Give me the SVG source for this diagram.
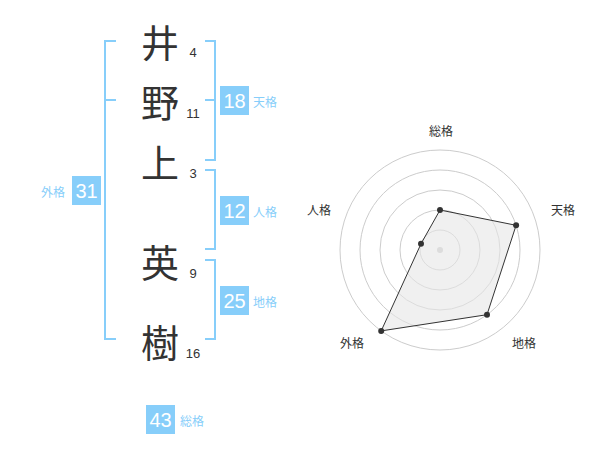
<svg xmlns="http://www.w3.org/2000/svg" width="600" height="470" viewBox="0 0 600 470">
<style>
.br{fill:none;stroke:#87cefa;stroke-width:2}
.box{fill:#87cefa}
.bn{font-family:"Liberation Sans",Arial,sans-serif;font-size:20px;fill:#fff;text-anchor:middle}
.lb{font-family:"Noto Sans CJK JP","Noto Sans CJK SC",sans-serif;font-size:12px;fill:#87cefa}
.kj{font-family:"Noto Sans CJK JP","Noto Sans CJK SC",sans-serif;font-size:38px;fill:#333;text-anchor:middle;dominant-baseline:central}
.sn{font-family:"Liberation Sans",Arial,sans-serif;font-size:13px;fill:#333;text-anchor:middle}
.rl{font-family:"Noto Sans CJK JP","Noto Sans CJK SC",sans-serif;font-size:12px;fill:#333;text-anchor:middle;dominant-baseline:central}
.ring{fill:none;stroke:#ccc;stroke-width:1}
.pt{fill:#333}
</style>
<g id="connectors">
<path class="br" d="M116,41 H105 V339 H116 M105,100 H116"/>
<path class="br" d="M205,41 H215 V160 H205 M205,100 H215"/>
<path class="br" d="M205,170 H215 V249 H205"/>
<path class="br" d="M205,260 H215 V339 H205"/>
</g>
<g id="name">
<g id="c1"><text class="kj" x="160" y="40">井</text><text class="sn" x="193" y="57">4</text></g>
<g id="c2"><text class="kj" x="160" y="100">野</text><text class="sn" x="193" y="118">11</text></g>
<g id="c3"><text class="kj" x="160" y="160">上</text><text class="sn" x="193" y="178">3</text></g>
<g id="c4"><text class="kj" x="160" y="260">英</text><text class="sn" x="193" y="278">9</text></g>
<g id="c5"><text class="kj" x="160" y="340">樹</text><text class="sn" x="193" y="358">16</text></g>
</g>
<g id="tenkaku"><rect class="box" x="220" y="86" width="29" height="29"/><text class="bn" x="234.5" y="108">18</text><text class="lb" x="253" y="106.5">天格</text></g>
<g id="jinkaku"><rect class="box" x="220" y="196" width="29" height="29"/><text class="bn" x="234.5" y="218">12</text><text class="lb" x="253" y="216.5">人格</text></g>
<g id="chikaku"><rect class="box" x="220" y="286" width="29" height="29"/><text class="bn" x="234.5" y="308">25</text><text class="lb" x="253" y="306.5">地格</text></g>
<g id="gaikaku"><rect class="box" x="72" y="176" width="29" height="29"/><text class="bn" x="86.5" y="198">31</text><text class="lb" x="41" y="196.5">外格</text></g>
<g id="soukaku"><rect class="box" x="146" y="405" width="29" height="29"/><text class="bn" x="160.5" y="427">43</text><text class="lb" x="180" y="425.5">総格</text></g>
<g id="radar">
<circle class="ring" cx="440" cy="250" r="20"/>
<circle class="ring" cx="440" cy="250" r="40"/>
<circle class="ring" cx="440" cy="250" r="60"/>
<circle class="ring" cx="440" cy="250" r="80"/>
<circle class="ring" cx="440" cy="250" r="100"/>
<circle cx="440" cy="250" r="3" fill="#ccc"/>
<polygon points="440,210 516.1,225.3 487,314.7 381.2,330.9 421,243.8" fill="#e6e6e6" fill-opacity="0.6" stroke="#333" stroke-width="1"/>
<circle class="pt" cx="440" cy="210" r="3"/>
<circle class="pt" cx="516.1" cy="225.3" r="3"/>
<circle class="pt" cx="487" cy="314.7" r="3"/>
<circle class="pt" cx="381.2" cy="330.9" r="3"/>
<circle class="pt" cx="421" cy="243.8" r="3"/>
<text class="rl" x="441" y="130">総格</text>
<text class="rl" x="563" y="209">天格</text>
<text class="rl" x="524" y="342">地格</text>
<text class="rl" x="352" y="342">外格</text>
<text class="rl" x="319" y="209">人格</text>
</g>
</svg>
